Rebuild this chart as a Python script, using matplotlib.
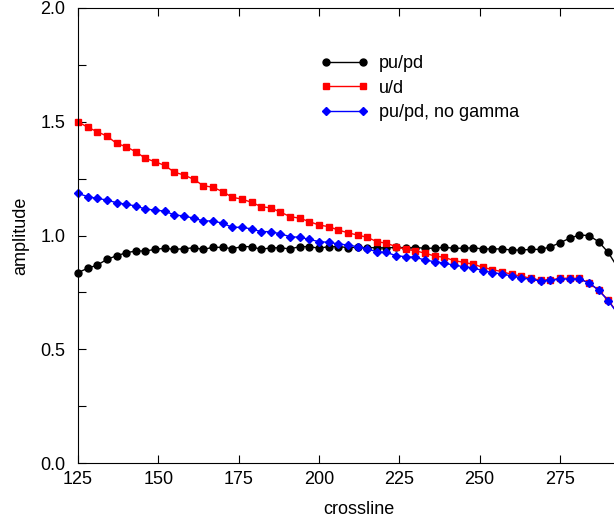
import matplotlib
matplotlib.use("Agg")
import matplotlib.pyplot as plt
from matplotlib.ticker import MultipleLocator, FixedLocator

crossline = list(range(125, 294, 3))

pu_pd = [0.837, 0.856, 0.870, 0.895, 0.911, 0.924, 0.932, 0.932, 0.939, 0.944,
         0.939, 0.942, 0.946, 0.939, 0.948, 0.948, 0.942, 0.951, 0.951,
         0.939, 0.946, 0.946, 0.941, 0.951, 0.951, 0.944, 0.951, 0.951,
         0.947, 0.948, 0.946, 0.947, 0.945, 0.948, 0.946, 0.947, 0.944, 0.944,
         0.948, 0.944, 0.944, 0.946, 0.941, 0.941, 0.941, 0.936, 0.936, 0.939,
         0.939, 0.950, 0.968, 0.988, 1.002, 1.000, 0.973, 0.926, 0.858]

u_d = [1.500, 1.476, 1.456, 1.437, 1.405, 1.390, 1.368, 1.339, 1.324, 1.308,
       1.278, 1.266, 1.247, 1.219, 1.212, 1.193, 1.168, 1.160, 1.146,
       1.127, 1.121, 1.103, 1.083, 1.076, 1.061, 1.046, 1.039, 1.024,
       1.012, 1.002, 0.992, 0.973, 0.966, 0.951, 0.939, 0.933, 0.922, 0.910,
       0.904, 0.890, 0.882, 0.874, 0.860, 0.850, 0.841, 0.829, 0.822, 0.811,
       0.804, 0.806, 0.811, 0.813, 0.811, 0.792, 0.760, 0.716, 0.658]

pu_pd_nogamma = [1.185, 1.171, 1.163, 1.156, 1.144, 1.137, 1.130, 1.116, 1.112, 1.107,
                 1.090, 1.086, 1.076, 1.064, 1.064, 1.054, 1.036, 1.036, 1.029,
                 1.017, 1.017, 1.007, 0.995, 0.992, 0.983, 0.973, 0.970, 0.963,
                 0.958, 0.951, 0.941, 0.929, 0.926, 0.911, 0.907, 0.904, 0.892, 0.885,
                 0.878, 0.870, 0.863, 0.858, 0.845, 0.837, 0.831, 0.822, 0.814, 0.807,
                 0.800, 0.803, 0.808, 0.809, 0.808, 0.792, 0.760, 0.714, 0.656]

x_ticks = [125, 150, 175, 200, 225, 250, 275]
y_ticks = [0.0, 0.5, 1.0, 1.5, 2.0]

plt.rcParams['font.family'] = ['Liberation Sans', 'DejaVu Sans']
FS = 13

W, H = 614, 521
fig = plt.figure(figsize=(W / 100, H / 100), dpi=100)
left_px, right_px, bot_px, top_px = 78, 640.3, 463, 8
ax = fig.add_axes([left_px / W, 1 - bot_px / H,
                   (right_px - left_px) / W, (bot_px - top_px) / H])

ax.plot(crossline, pu_pd, color='black', lw=1.0, marker='o', ms=5.0,
        label='pu/pd', clip_on=False)
ax.plot(crossline, u_d, color='red', lw=1.0, marker='s', ms=4.4,
        label='u/d', clip_on=False)
ax.plot(crossline, pu_pd_nogamma, color='blue', lw=1.0, marker='D', ms=4.2,
        label='pu/pd, no gamma', clip_on=False)

ax.set_xlim(125, 300)
ax.set_ylim(0, 2.0)
ax.xaxis.set_major_locator(FixedLocator(x_ticks))
ax.yaxis.set_major_locator(FixedLocator(y_ticks))
ax.yaxis.set_minor_locator(MultipleLocator(0.25))
ax.set_yticklabels([f"{v:.1f}" for v in y_ticks])
ax.tick_params(which='both', direction='in', top=True, right=True,
               length=6, width=0.8, labelsize=FS)
ax.tick_params(axis='x', pad=6)
ax.tick_params(axis='y', pad=9)
for s in ax.spines.values():
    s.set_linewidth(0.8)

ax.set_xlabel('crossline', fontsize=FS, labelpad=9)
ax.set_ylabel('amplitude', fontsize=FS, labelpad=8)

leg = fig.legend(loc='upper left', bbox_to_anchor=(321 / W, 1 - 55 / H),
                 frameon=False, fontsize=FS, numpoints=2, handlelength=2.6,
                 handletextpad=0.6, labelspacing=0.42, borderpad=0,
                 borderaxespad=0)

fig.savefig('out.png', dpi=100)
